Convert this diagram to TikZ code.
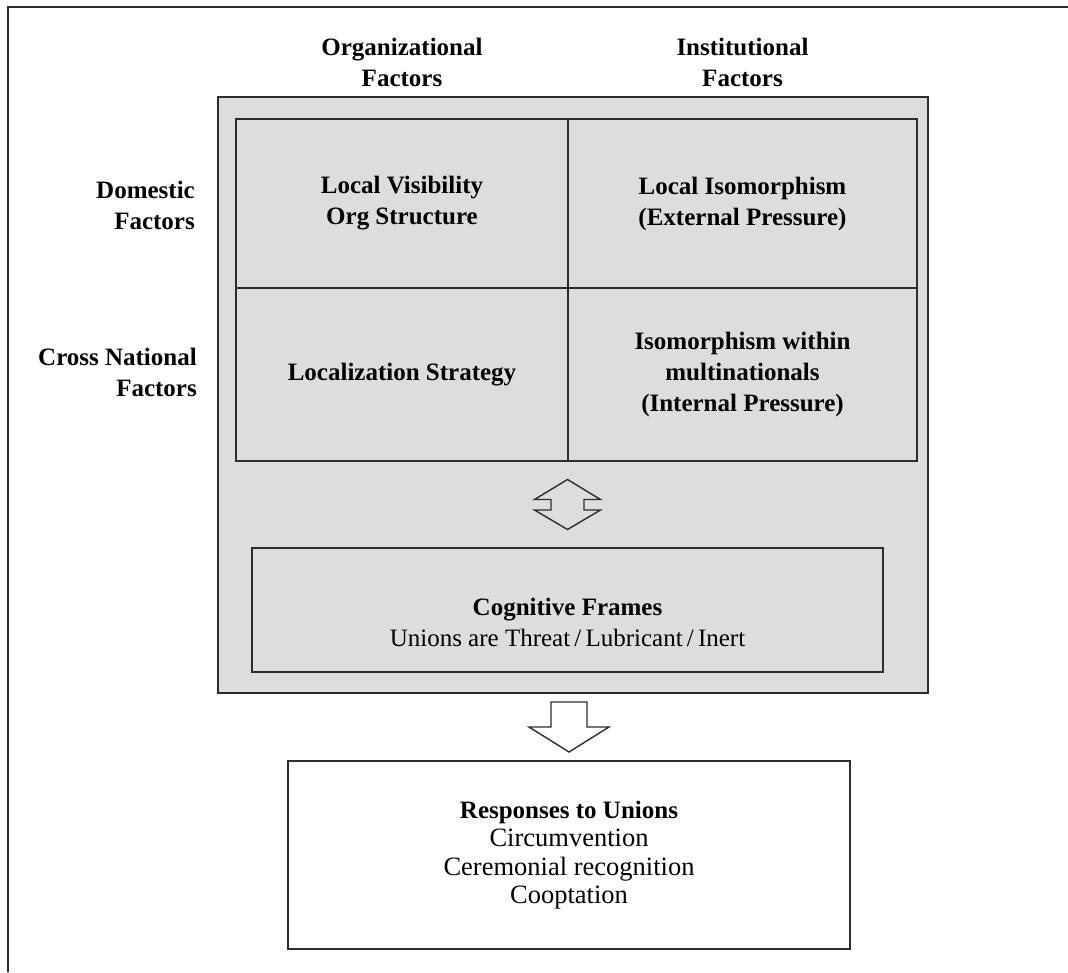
\documentclass[tikz,border=0pt]{standalone}
\usepackage{fontspec}
\setmainfont{Liberation Serif}
\usetikzlibrary{positioning}
\usetikzlibrary{calc}
\definecolor{panelgray}{RGB}{221,221,221}
\definecolor{linegray}{RGB}{45,45,45}
\tikzset{
    box/.style={draw=linegray, line width=1.6pt, inner sep=0pt, outer sep=0pt, align=center},
    lbl/.style={inner sep=0pt, align=center},
}
\newcommand{\plain}[1]{{\mdseries\fontsize{26.5}{28.5}\selectfont #1}}

\begin{document}
\begin{tikzpicture}[x=1pt, y=-1pt, font=\fontsize{25}{31}\selectfont\bfseries]
    \useasboundingbox (0,0) rectangle (1068,972);
    %Frame
    \draw[linegray, line width=1.4pt] (8,972) -- (8,7) -- (1068,7);
    %Panel
    \node[box, fill=panelgray, minimum width=710pt, minimum height=596pt] (panel) at (573,395) {};
    %Cells
    \node[box, minimum width=332pt, minimum height=169pt] (vis) at (402,203.5) {Local Visibility\\Org Structure};
    \node[box, minimum width=349pt, minimum height=169pt, right=0pt of vis] (iso) {Local Isomorphism\\(External Pressure)};
    \node[box, minimum width=332pt, minimum height=173pt, below=0pt of vis] (loc) {Localization Strategy};
    \node[box, minimum width=349pt, minimum height=173pt, right=0pt of loc] (mni) {Isomorphism within\\multinationals\\(Internal Pressure)};
    %Column heads
    \node[lbl] (org) at (vis |- 0,62) {Organizational\\Factors};
    \node[lbl] (inst) at (iso |- 0,62) {Institutional\\Factors};
    %Row heads
    \node[lbl, align=right, anchor=east] (dom) at (195,205) {Domestic\\Factors};
    \node[lbl, align=right, anchor=east] (cross) at (197,372) {Cross National\\Factors};
    %Cognitive Frames
    \node[box, minimum width=631pt, minimum height=124pt] (cog) at (567.5,610) {};
    \node[lbl] (cogtxt) at ([yshift=-12pt]cog.center) {Cognitive Frames\\{\mdseries\fontsize{25}{28.5}\selectfont Unions are Threat\,/\,Lubricant\,/\,Inert}};
    %Responses
    \node[box, fill=white, minimum width=562pt, minimum height=188pt, font=\fontsize{25}{28.5}\selectfont\bfseries] (resp) at (569,855) {Responses to Unions\\\plain{Circumvention}\\\plain{Ceremonial recognition}\\\plain{Cooptation}};

    %Cells - Cognitive Frames
    \coordinate (dbl) at ($(loc.south -| cog.north)!0.5!(cog.north)$);
    \draw[linegray, line width=1.4pt, shift={(dbl)}] (0,-25) -- (33,-5) -- (16.5,-5) -- (16.5,5.5) -- (33,5.5) -- (0,25) -- (-33,5.5) -- (-16.5,5.5) -- (-16.5,-5) -- (-33,-5) -- cycle;
    %Panel - Responses
    \coordinate (dn) at ($(panel.south -| resp.north)!0.5!(resp.north)$);
    \draw[linegray, line width=1.4pt, fill=white, shift={(dn)}] (-18,-25) -- (18,-25) -- (18,0) -- (40,0) -- (0,25) -- (-40,0) -- (-18,0) -- cycle;
\end{tikzpicture}
\end{document}
